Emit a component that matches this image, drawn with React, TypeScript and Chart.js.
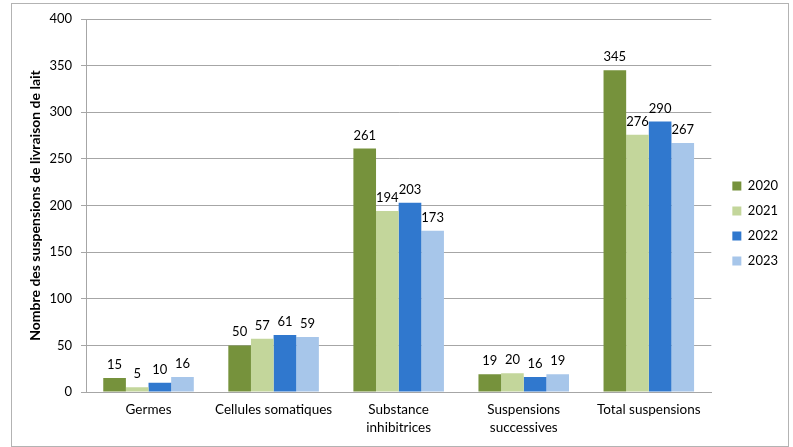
import React, { useEffect, useRef } from "react";
import { Chart, registerables } from "chart.js";

Chart.register(...registerables);

const categories: (string | string[])[] = [
  "Germes",
  "Cellules somatiques",
  ["Substance", "inhibitrices"],
  ["Suspensions", "successives"],
  "Total suspensions",
];
const years = ["2020", "2021", "2022", "2023"];
const values2020 = [15, 50, 261, 19, 345];
const values2021 = [5, 57, 194, 20, 276];
const values2022 = [10, 61, 203, 16, 290];
const values2023 = [16, 59, 173, 19, 267];
const colors = ["#76923C", "#C3D69B", "#3078CE", "#A7C6EA"];
const yTitle = "Nombre des suspensions de livraison de lait";

const FONT = "Lato";

const labelPlugin = {
  id: "barValueLabels",
  afterLayout(chart: any) {
    // let the category labels extend below the reserved axis height without clipping
    const x = chart.scales.x;
    if (x) x.bottom = chart.height;
  },
  afterDatasetsDraw(chart: any) {
    const ctx = chart.ctx;
    ctx.save();
    ctx.font = `13px ${FONT}`;
    ctx.fillStyle = "#000000";
    ctx.textAlign = "center";
    ctx.textBaseline = "alphabetic";
    chart.data.datasets.forEach((ds: any, di: number) => {
      const meta = chart.getDatasetMeta(di);
      meta.data.forEach((bar: any, i: number) => {
        ctx.fillText(String(ds.data[i]), bar.x, bar.y - 9);
      });
    });
    ctx.restore();
  },
};

export default function App() {
  const ref = useRef<HTMLCanvasElement>(null);
  useEffect(() => {
    if (!ref.current) return;
    const seriesValues = [values2020, values2021, values2022, values2023];
    const chart = new Chart(ref.current, {
      type: "bar",
      data: {
        labels: categories,
        datasets: years.map((y, i) => ({
          label: y,
          data: seriesValues[i],
          backgroundColor: colors[i],
          borderWidth: 0,
          categoryPercentage: 0.724,
          barPercentage: 1,
        })),
      },
      options: {
        animation: false,
        responsive: false,
        maintainAspectRatio: false,
        layout: { padding: { top: 19, left: 25, right: 5, bottom: 19 } },
        plugins: {
          tooltip: { enabled: false },
          legend: {
            position: "right",
            labels: {
              boxWidth: 9,
              boxHeight: 9,
              padding: 12,
              color: "#000000",
              font: { family: FONT, size: 13 },
            },
          },
        },
        scales: {
          x: {
            grid: { display: false, drawTicks: false },
            border: { display: true, color: "#a6a6a6", width: 1 },
            ticks: {
              color: "#000000",
              font: { family: FONT, size: 13.5, lineHeight: 1.3 },
              padding: 9,
              maxRotation: 0,
              autoSkip: false,
            },
            afterFit: (scale: any) => {
              scale.height = 36;
            },
          },
          y: {
            min: 0,
            max: 400,
            ticks: {
              stepSize: 50,
              color: "#000000",
              font: { family: FONT, size: 13 },
              padding: 9,
            },
            grid: { color: "#a6a6a6", tickLength: 5, drawTicks: true },
            border: { display: true, color: "#a6a6a6" },
            title: {
              display: true,
              text: yTitle,
              color: "#000000",
              font: { family: FONT, size: 14, weight: "bold" },
              padding: { top: 2, bottom: 4 },
            },
            afterFit: (scale: any) => {
              scale.width = 61;
            },
          },
          gap: {
            type: "linear",
            position: "right",
            display: true,
            grid: { display: false, drawTicks: false },
            border: { display: false },
            ticks: { display: false },
            afterFit: (scale: any) => {
              scale.width = 9;
            },
          },
        },
      },
      plugins: [labelPlugin],
    } as any);
    return () => chart.destroy();
  }, []);

  return (
    <div style={{ position: "fixed", left: 0, top: 0, width: 793, height: 447, background: "#ffffff" }}>
      <div
        style={{
          position: "absolute",
          left: 11,
          top: 3,
          width: 776,
          height: 442,
          border: "1px solid #b3b3b3",
        }}
      />
      <canvas ref={ref} width={793} height={447} style={{ position: "absolute", left: 0, top: 0 }} />
    </div>
  );
}
